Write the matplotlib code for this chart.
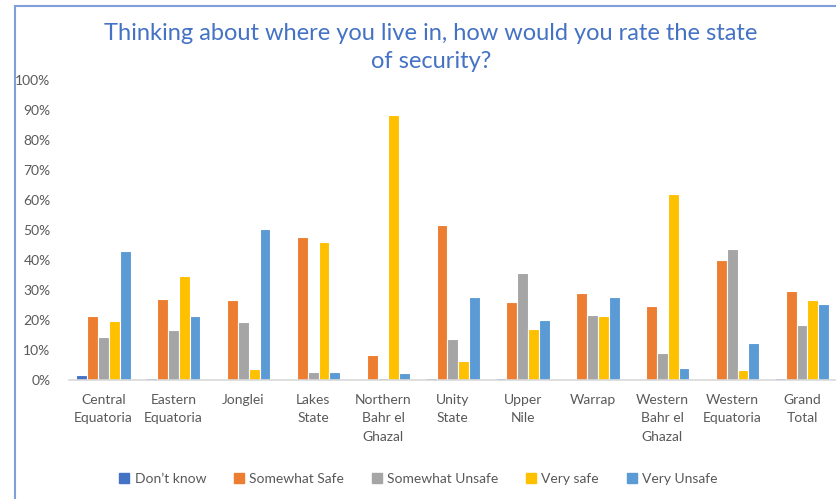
import matplotlib.pyplot as plt
import matplotlib.patches as mpatches
import numpy as np

plt.rcParams['font.family'] = ['Lato', 'DejaVu Sans']

states = ["Central\nEquatoria", "Eastern\nEquatoria", "Jonglei", "Lakes\nState",
          "Northern\nBahr el\nGhazal", "Unity\nState", "Upper\nNile", "Warrap",
          "Western\nBahr el\nGhazal", "Western\nEquatoria", "Grand\nTotal"]

dont_know = [1.6, 0.7, 0, 0, 0, 0.7, 0.7, 0, 0, 0, 0.7]
somewhat_safe = [21.3, 27.0, 26.7, 47.7, 8.3, 51.7, 26.1, 29.1, 24.8, 39.9, 29.6]
somewhat_unsafe = [14.4, 16.7, 19.2, 2.8, 0.7, 13.6, 35.6, 21.8, 8.9, 43.8, 18.3]
very_safe = [19.6, 34.7, 3.7, 46.0, 88.3, 6.3, 17.0, 21.3, 61.9, 3.2, 26.6]
very_unsafe = [42.9, 21.3, 50.3, 2.8, 2.3, 27.8, 20.0, 27.8, 4.1, 12.2, 25.2]

series = [
    ("Don\u2019t know", dont_know, "#4472C4"),
    ("Somewhat Safe", somewhat_safe, "#ED7D31"),
    ("Somewhat Unsafe", somewhat_unsafe, "#A5A5A5"),
    ("Very safe", very_safe, "#FFC000"),
    ("Very Unsafe", very_unsafe, "#5B9BD5"),
]

fig = plt.figure(figsize=(8.37, 4.99), dpi=100)
ax = fig.add_axes([0.082, 0.2385, 0.918, 0.6012])

x = np.arange(len(states))
w = 0.155
for i, (name, vals, col) in enumerate(series):
    ax.bar(x + (i - 2) * w, vals, w, color=col, edgecolor="white", linewidth=0.8, label=name)

ax.set_xlim(-0.5, len(states) - 0.5)
ax.set_ylim(0, 100)
ax.set_yticks(np.arange(0, 101, 10))
ax.set_yticklabels([f"{v}%" for v in range(0, 101, 10)])
ax.set_xticks(x)
ax.set_xticklabels(states, linespacing=1.65, va="top")
ax.tick_params(axis="both", length=0, colors="#595959", labelsize=10)
ax.tick_params(axis="y", pad=13)
ax.tick_params(axis="x", pad=10)

for s in ["top", "right", "left"]:
    ax.spines[s].set_visible(False)
ax.spines["bottom"].set_color("#D9D9D9")
ax.spines["bottom"].set_linewidth(1.2)

fig.text(0.515, 0.905, "Thinking about where you live in, how would you rate the state\nof security?",
         ha="center", va="center", fontsize=17, color="#4472C4", linespacing=1.45)

handles = [mpatches.Patch(color=c, label=n) for n, _, c in series]
fig.legend(handles=handles, loc="center", bbox_to_anchor=(0.5, 0.04), ncol=5, frameon=False,
           fontsize=10, labelcolor="#595959", handlelength=0.7, handleheight=0.7,
           handletextpad=0.4, columnspacing=2.0)

# outer chart border
frame = mpatches.Rectangle((15 / 837, -0.1), 1.2, 1 - 6 / 499 + 0.1, transform=fig.transFigure,
                           fill=False, edgecolor="#7F9FD8", linewidth=1.5)
fig.patches.append(frame)

fig.savefig("out.png", dpi=100)
